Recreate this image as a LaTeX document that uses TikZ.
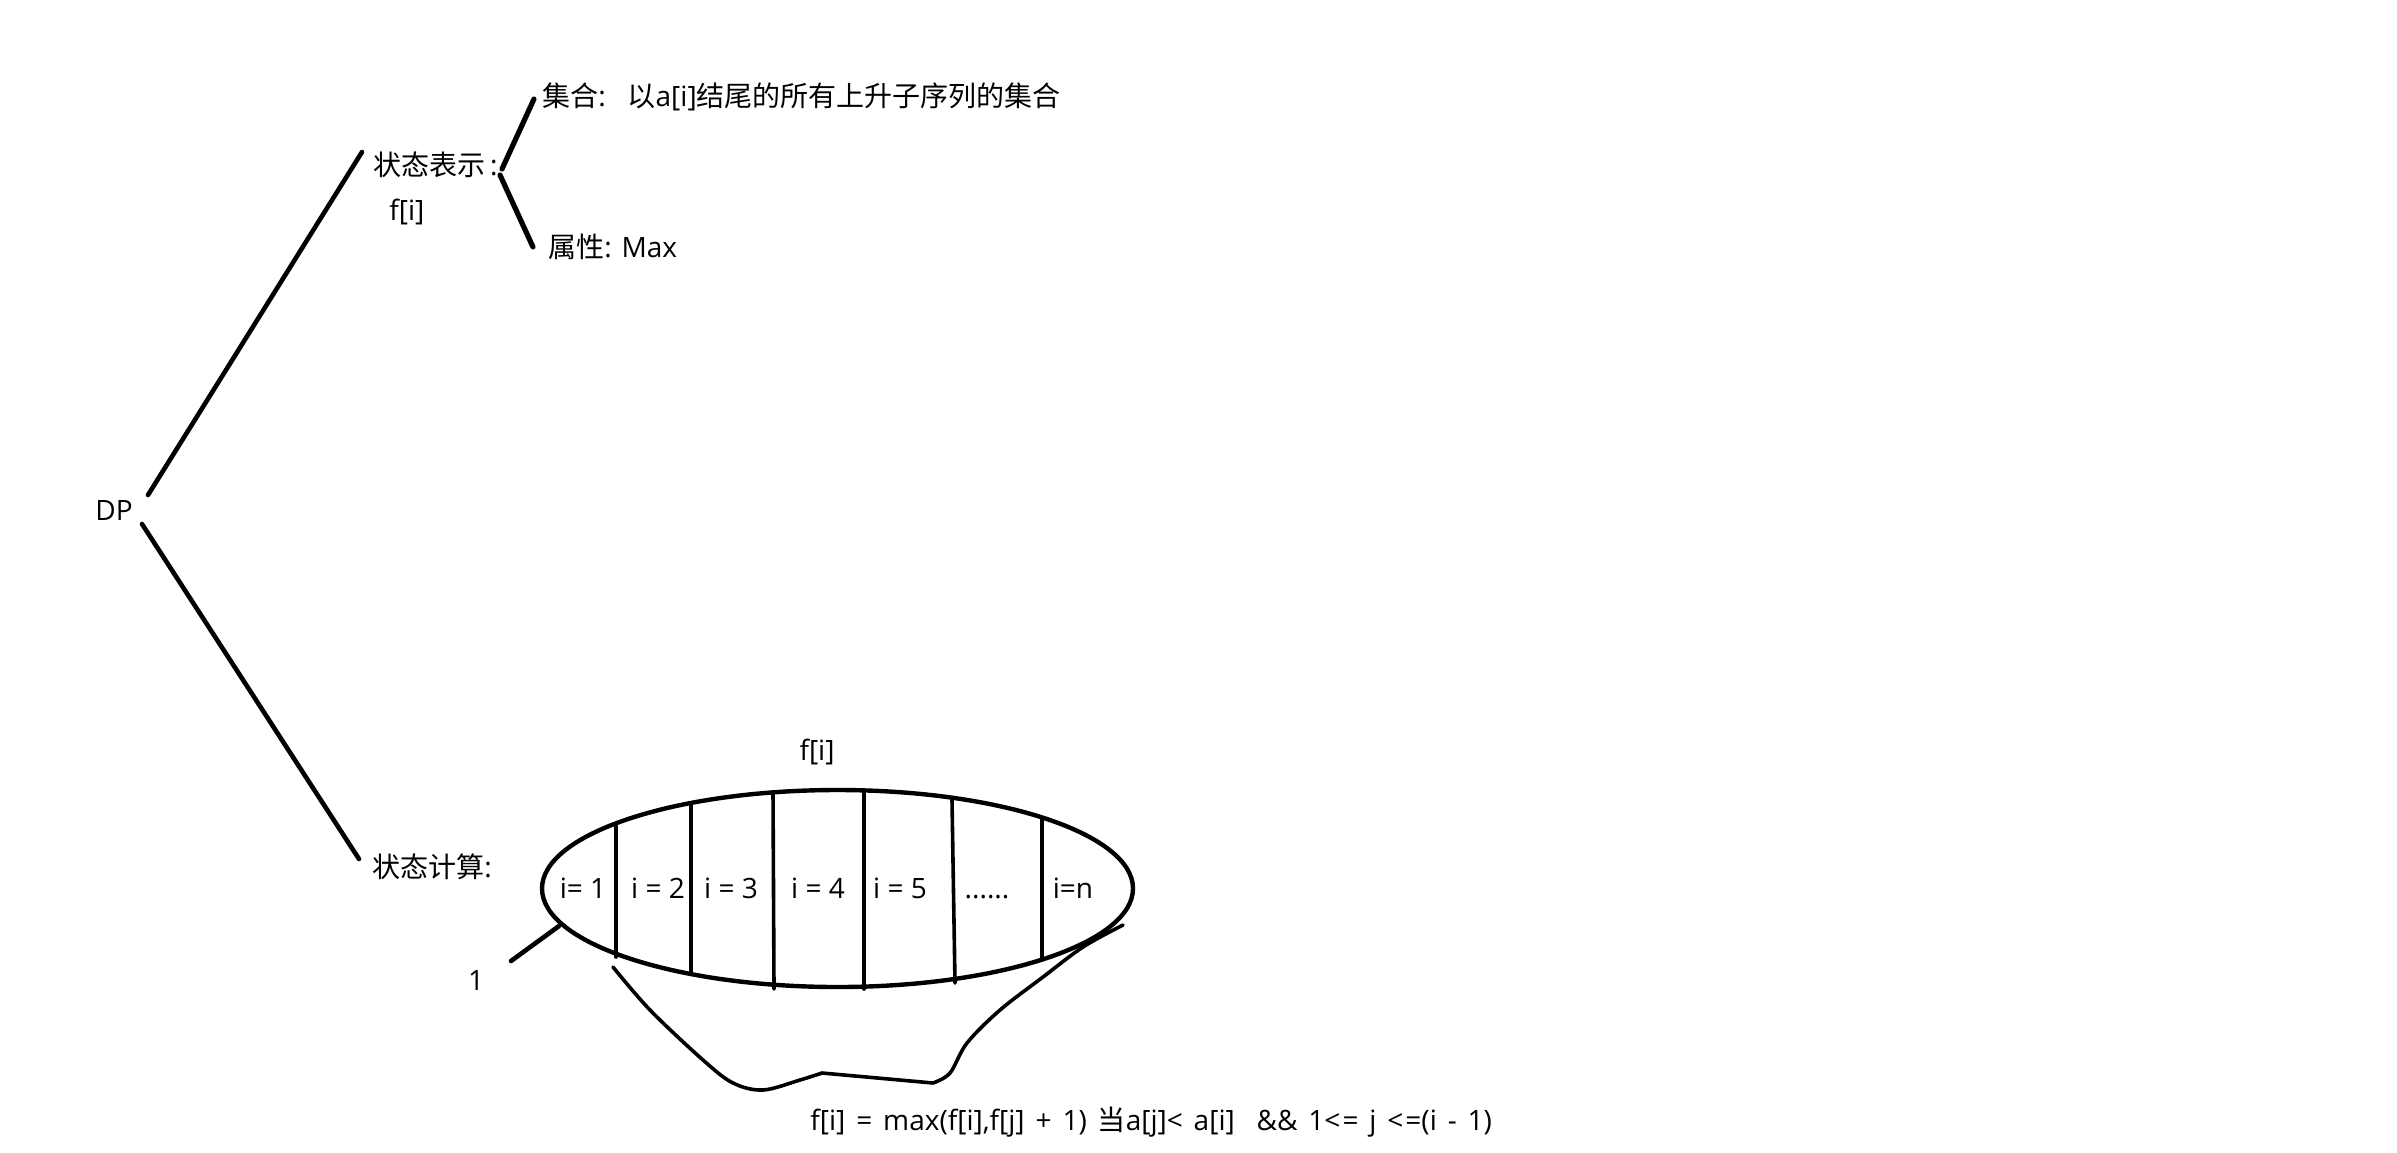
\documentclass[tikz,border=0pt]{standalone}
\usepackage{fontspec}
\usetikzlibrary{shapes.geometric}
\setmainfont{Open Sans}
\newfontfamily\cjk{Noto Sans CJK SC}
\newcommand\widespaces{\spaceskip=0.39em\relax}
\begin{document}
\begin{tikzpicture}[x=0.5pt,y=-0.5pt,
  txt/.style={inner sep=0pt,font=\fontsize{14pt}{17pt}\selectfont},
  stroke/.style={line width=2.3pt,line cap=round},
  thin stroke/.style={line width=1.8pt,line cap=round}]
\useasboundingbox[fill=white] (0,0) rectangle (2397,1152);
% texts
\node[txt] (dp) at (114,510) {DP};
\node[txt,anchor=west] (repr) at (373,165) {{\cjk 状态表示}\,:};
\node[txt,anchor=west] (fi1) at (389,212) {f[i]};
\node[txt,anchor=west] (set) at (542,97) {{\cjk 集合}:\ \ \ {\cjk 以}a[i]{\cjk 结尾的所有上升子序列的集合}};
\node[txt,anchor=west] (attr) at (548,247) {{\cjk 属性}: Max};
\node[txt,anchor=west] (calc) at (372,867) {{\cjk 状态计算}:};
\node[txt] (fi2) at (817,752) {f[i]};
\node[txt] (one) at (476,980) {1};
\node[txt,anchor=west] (formula) at (810,1122) {\widespaces f[i] = max(f[i],f[j] + 1) {\cjk 当}a[j]< a[i]\ \ \&\& 1<\kern1pt= j <\kern1pt=(i - 1)};
% tree connectors
\coordinate (dpa) at (148,495);
\coordinate (dpb) at (142,524);
\coordinate (ra) at (362,152);
\coordinate (ca) at (359,859);
\draw[stroke] (dpa) -- (ra);
\draw[stroke] (dpb) -- (ca);
\coordinate (b1) at (502,169);
\coordinate (b1e) at (534,99);
\coordinate (b2) at (500,175);
\coordinate (b2e) at (533,247);
\draw[stroke,line width=2.6pt] (b1) -- (b1e);
\draw[stroke,line width=2.6pt] (b2) -- (b2e);
% ellipse
\node[draw,line width=2.2pt,ellipse,minimum width=295.5pt,minimum height=98.5pt,inner sep=0pt,outer sep=0pt] (ell) at (837.5,888.5) {};
\draw[thin stroke] (616,826) -- (616,957);
\draw[thin stroke] (691,803) -- (691,973);
\draw[thin stroke] (773,792) -- (774,989);
\draw[thin stroke] (864,790) -- (864,989);
\draw[thin stroke] (952,800) -- (955,983);
\draw[thin stroke] (1042,818) -- (1042,958);
\node[txt] (l1) at (583,888) {i= 1};
\node[txt] (l2) at (658,888) {i = 2};
\node[txt] (l3) at (731,888) {i = 3};
\node[txt] (l4) at (818,888) {i = 4};
\node[txt] (l5) at (900,888) {i = 5};
\node[txt] (ld) at (987,888) {\vphantom{i}......};
\node[txt] (ln) at (1073,888) {i=n};
% pointer to 1
\coordinate (p1a) at (559,926);
\coordinate (p1b) at (511,961);
\draw[stroke] (p1a) -- (p1b);
% brace-like curve under ellipse
\draw[thin stroke] plot[smooth,tension=0.55] coordinates {(613,967) (650,1010) (703,1060) (733,1083) (763,1090) (800,1080) (822,1073)}
  -- (933,1083)
  plot[smooth,tension=0.55] coordinates {(933,1083) (950,1073) (967,1043) (1000,1010) (1043,977) (1083,947) (1123,925)};
\end{tikzpicture}
\end{document}
